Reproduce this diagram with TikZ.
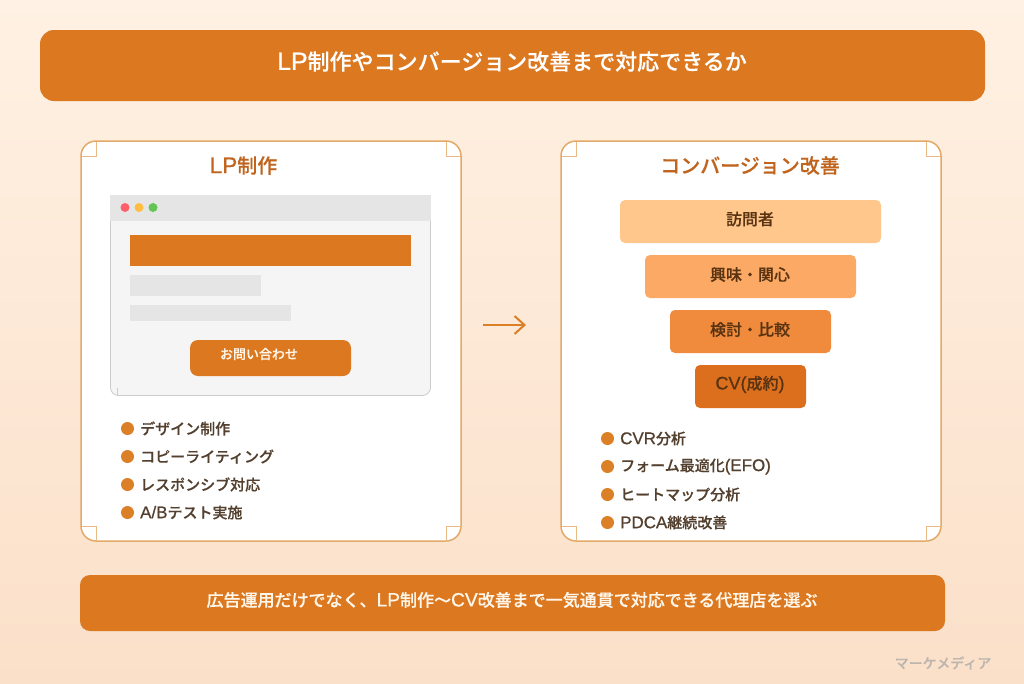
\documentclass[tikz,border=0pt]{standalone}
\usepackage{fontspec}
\setmainfont{Noto Sans CJK JP}
\newfontfamily\medfont{Noto Sans CJK JP Medium}[FakeBold=0.25]
\newfontfamily\latfont{Liberation Sans}[Scale=1.13,FakeBold=0.8]
\newcommand{\lat}[1]{{\latfont #1}}
\usetikzlibrary{arrows.meta}
\definecolor{bgtop}{HTML}{FFF1E3}
\definecolor{bgbot}{HTML}{FBE0C9}
\definecolor{band}{HTML}{DC781F}
\definecolor{cardline}{HTML}{E3A968}
\definecolor{headtxt}{HTML}{C0641E}
\definecolor{bodytxt}{HTML}{53402F}
\definecolor{funtxt}{HTML}{5A3412}
\definecolor{dotc}{HTML}{DC8028}
\definecolor{wgrey}{HTML}{F5F5F5}
\definecolor{tgrey}{HTML}{E5E5E5}
\definecolor{wline}{HTML}{CCCCCC}
\definecolor{fa}{HTML}{FFC78C}
\definecolor{fb}{HTML}{FBA965}
\definecolor{fc}{HTML}{F08A3C}
\definecolor{fd}{HTML}{DC6F1E}
\definecolor{dred}{HTML}{FF5F6B}
\definecolor{dyel}{HTML}{FFBD44}
\definecolor{dgrn}{HTML}{62C554}
\definecolor{marktxt}{HTML}{BDB6AE}
\definecolor{softw}{HTML}{FFF6EA}
\tikzset{
  x=1pt,y=-1pt,
  cardbox/.style={fill=white,draw=cardline,line width=1.5pt,rounded corners=15pt},
  cornerbox/.style={draw=cardline!80!white,line width=0.5pt,fill=none},
  lab/.style={inner sep=0pt,font=\medfont\fontsize{#1}{#1}\selectfont},
  dotmark/.style={circle,fill=dotc,draw=none,minimum size=13pt,inner sep=0pt},
  item/.style={lab=15,text=bodytxt,anchor=west},
  funlab/.style={lab=16,text=funtxt},
}
\begin{document}
\begin{tikzpicture}
\useasboundingbox (0,0) rectangle (1024,683);
\shade[top color=bgtop,bottom color=bgbot] (0,0) rectangle (1024,683);
% header
\fill[band,rounded corners=14pt] (40,30) rectangle (985,101);
\node[lab=22,text=white] (title) at (512,61.5) {\lat{LP}制作やコンバージョン改善まで対応できるか};
% cards
\draw[cardbox] (81,141) rectangle (461,541);
\draw[cardbox] (561,141) rectangle (941,541);
% card corner squares
\draw[cornerbox] (96,141.5)--(96,156)--(81.5,156);
\draw[cornerbox] (446,141.5)--(446,156)--(460.5,156);
\draw[cornerbox] (96,540.5)--(96,526)--(81.5,526);
\draw[cornerbox] (446,540.5)--(446,526)--(460.5,526);
\draw[cornerbox] (576,141.5)--(576,156)--(561.5,156);
\draw[cornerbox] (926,141.5)--(926,156)--(940.5,156);
\draw[cornerbox] (576,540.5)--(576,526)--(561.5,526);
\draw[cornerbox] (926,540.5)--(926,526)--(940.5,526);
\node[lab=20,text=headtxt] (lph) at (243.5,165.5) {\lat{LP}制作};
\node[lab=20,text=headtxt] (cvh) at (750,165.5) {コンバージョン改善};
% browser
\draw[fill=wgrey,draw=wline,line width=0.8pt,rounded corners=8pt] (110.5,200) rectangle (430.5,395.5);
\draw[wline,line width=0.6pt] (117.5,388)--(117.5,395);
\fill[tgrey] (110,195) rectangle (431,221);
\fill[dred] (125,207.5) circle (4.5pt);
\fill[dyel] (139,207.5) circle (4.5pt);
\fill[dgrn] (153,207.5) circle (4.5pt);
\fill[band] (130,235) rectangle (411,266);
\fill[tgrey] (130,275) rectangle (261,296);
\fill[tgrey] (130,305) rectangle (291,321);
\fill[band,rounded corners=8pt] (190,340) rectangle (351,376);
\node[lab=13,text=softw] (cta) at (259,354) {お問い合わせ};
% left list
\foreach \n/\y/\t in {a/428.5/{デザイン制作},b/456.5/{コピーライティング},c/484.5/{レスポンシブ対応},d/512.5/{\lat{A/B}テスト実施}}{
  \node[dotmark] (ld\n) at (127.5,\y) {};
  \node[item] (lt\n) at (140,\y) {\t};
}
% arrow
\coordinate (ars) at (483,325);
\coordinate (are) at (526,325);
\draw[dotc,line width=2pt,-{Straight Barb[length=10pt,width=18pt]}] (ars)--(are);
% funnel
\fill[fa,rounded corners=5pt] (620,200) rectangle (881,243);
\fill[fb,rounded corners=5pt] (645,255) rectangle (856,298);
\fill[fc,rounded corners=5pt] (670,310) rectangle (831,353);
\fill[fd,rounded corners=5pt] (695,365) rectangle (806,408);
\node[funlab] (f1) at (750,219) {訪問者};
\node[funlab] (f2) at (750,274.5) {興味・関心};
\node[funlab] (f3) at (750,329.5) {検討・比較};
\node[funlab] (f4) at (750,384.5) {\lat{CV(}成約\lat{)}};
% right list
\foreach \n/\y/\t in {a/438.5/{\lat{CVR}分析},b/466.5/{フォーム最適化\lat{(EFO)}},c/494.5/{ヒートマップ分析},d/522.5/{\lat{PDCA}継続改善}}{
  \node[dotmark] (rd\n) at (607.5,\y) {};
  \node[item] (rt\n) at (620,\y) {\t};
}
% footer band
\fill[band,rounded corners=10pt] (80,575) rectangle (945,631);
\node[lab=17,text=softw] (foot) at (512,600) {広告運用だけでなく、\lat{LP}制作〜\lat{CV}改善まで一気通貫で対応できる代理店を選ぶ};
\node[lab=14,text=marktxt] (mark) at (943,663) {マーケメディア};
\end{tikzpicture}
\end{document}
